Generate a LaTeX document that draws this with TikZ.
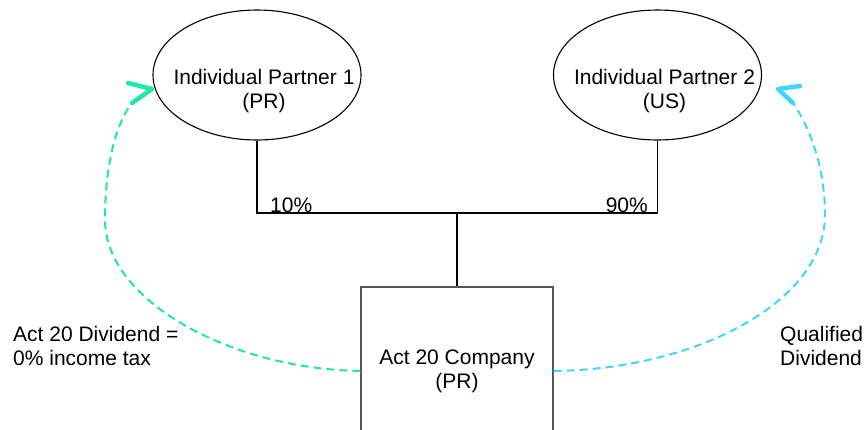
\documentclass[tikz,border=0pt]{standalone}
\usepackage{fontspec}
\setmainfont{Liberation Sans}
\usetikzlibrary{shapes.geometric}
\definecolor{flowgreen}{HTML}{1EE8A2}
\definecolor{flowcyan}{HTML}{3DD8F4}
\definecolor{boxgray}{HTML}{555555}
\begin{document}
\begin{tikzpicture}[x=1pt,y=-1pt,
  font=\fontsize{21}{24}\selectfont,
  partner/.style={draw=black, line width=1.1pt, ellipse, minimum width=208pt,
    minimum height=130pt, inner sep=0pt},
  partnertext/.style={align=center, xshift=7pt, yshift=-16pt},
  company/.style={draw=boxgray, line width=1.3pt, minimum width=192pt,
    minimum height=168pt, align=center, inner sep=0pt},
  owner/.style={line width=1.4pt, draw=black},
  plain/.style={inner sep=0pt, align=left},
  greenflow/.style={draw=flowgreen, line width=2pt, dash pattern=on 8pt off 5pt},
  cyanflow/.style={draw=flowcyan, line width=2pt, dash pattern=on 8pt off 5pt},
  chevron/.style={line width=4.5pt, line cap=round, line join=round}
]
\useasboundingbox (0,0) rectangle (867,429);

% partners and company
\node[partner, label={[partnertext]center:{Individual Partner 1\\(PR)}}] (p1) at (257,75) {};
\node[partner, label={[partnertext]center:{Individual Partner 2\\(US)}}] (p2) at (657.5,75) {};
\node[company] (co) at (457,371) {Act 20 Company\\(PR)};

% ownership tree
\coordinate (j) at (457,213);
\draw[owner] (p1.south) |- (j) -| (p2.south);
\draw[owner] (j) -- (co.north);
\node[plain, anchor=base west] (pct1) at (270,212) {10\%};
\node[plain, anchor=base east] (pct2) at (648,212) {90\%};

% dividend flows
\coordinate (gtip) at (152,89);
\coordinate (gtail) at (132,103);
\draw[greenflow] (co.west) .. controls (230,369) and (105,300) .. (105,220)
  .. controls (105,160) and (118,120) .. (gtail);
\draw[chevron, draw=flowgreen] (128,83) -- (gtip) -- (gtail);

\coordinate (ctip) at (778,89);
\coordinate (ctail) at (793,103);
\draw[cyanflow] (co.east) .. controls (700,369) and (825,300) .. (825,215)
  .. controls (825,160) and (805,120) .. (ctail);
\draw[chevron, draw=flowcyan] (800,86) -- (ctip) -- (ctail);

% flow labels (base anchor sits on the last line)
\node[plain, anchor=base west] (tax) at (13,365) {Act 20 Dividend =\\0\% income tax};
\node[plain, anchor=base west] (qual) at (780,365) {Qualified\\Dividend};
\end{tikzpicture}
\end{document}
